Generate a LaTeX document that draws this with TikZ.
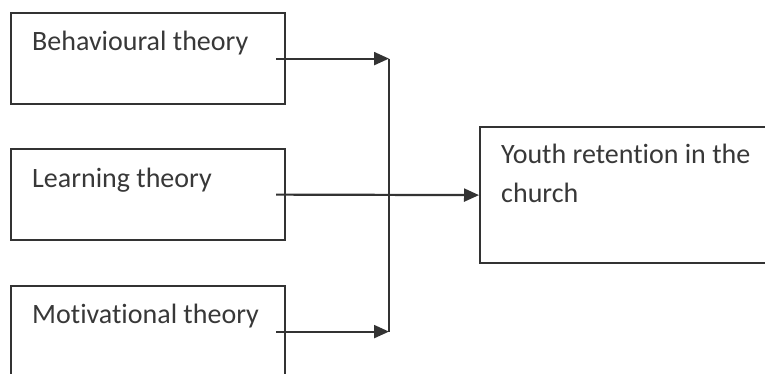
\documentclass[tikz,border=0pt]{standalone}
\usepackage{fontspec}
\setmainfont{Carlito}[RawFeature={-liga;-dlig;-clig}]
\usetikzlibrary{arrows.meta,calc}
\begin{document}
\begin{tikzpicture}[x=1pt,y=1pt,
  box/.style={draw=black!80, line width=2.2pt, minimum width=274pt, minimum height=91pt, inner sep=0pt, anchor=north west},
  lbl/.style={anchor=base west, inner sep=0pt, text=black!78, font=\fontsize{28}{39}\selectfont, align=left},
  conn/.style={draw=black!80, line width=2.2pt},
  arr/.style={conn, -{Triangle[length=15pt,width=13pt]}}]
\useasboundingbox (0,0) rectangle (765,-373);
\clip (0,0) rectangle (765,-373);
% boxes
\node[box] (b1) at (10,-12) {};
\node[box] (b2) at (10,-148) {};
\node[box] (b3) at (10,-285) {};
\node[box, minimum width=300pt, minimum height=136pt] (r) at (479,-126) {};
% labels
\node[lbl] (t1) at (32,-50) {Behavioural theory};
\node[lbl] (t2) at (32,-187) {Learning theory};
\node[lbl] (t3) at (32,-323) {Motivational theory};
\node[lbl] (tr) at (501,-202) {Youth retention in the\\church};
% junction
\coordinate (j1) at ($(389,0)!(b1.east)!(389,-10)$);
\coordinate (j3) at ($(389,0)!(b3.east)!(389,-10)$);
% connectors
\draw[arr] ([xshift=-10pt]b1.east) -- (j1);
\draw[arr] ([xshift=-10pt]b3.east) -- (j3);
\draw[conn] (j1) -- (j3);
\draw[arr] ([xshift=-10pt]b2.east) -- (r.west);
\end{tikzpicture}
\end{document}
